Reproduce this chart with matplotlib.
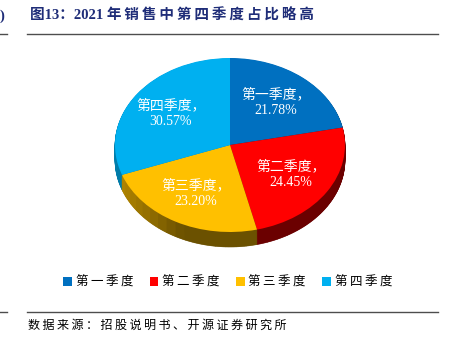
import numpy as np
import matplotlib.pyplot as plt
from matplotlib.colors import to_rgb
from matplotlib.lines import Line2D

plt.rcParams['font.family'] = ['Liberation Serif', 'Noto Sans CJK SC', 'DejaVu Sans']

# Quarterly sales share (%)
quarters = ['第一季度', '第二季度', '第三季度', '第四季度']
shares = [21.78, 24.45, 23.20, 30.57]
top_colors = ['#0070C0', '#FF0000', '#FFC000', '#00B0F0']

fig = plt.figure(figsize=(4.53, 3.43), dpi=100)
ax = fig.add_axes([0, 0, 1, 1])

# pie centre / radii in pixels, used to set the data limits
cx, cy, rx, ry = 230, 145, 115, 87
W, H = 453, 343
depth = 15 / ry


def spaced(s, sep='\u2009'):
    return sep.join(s)


# side wall: each share split into thin slices, shaded by horizontal position
k = 16
sub_vals, sub_cols = [], []
start = 90.0
for v, c in zip(shares, top_colors):
    span = v / 100 * 360
    for j in range(k):
        mid = np.radians(start - span * (j + 0.5) / k)
        x = np.cos(mid)
        f = 0.42 + 0.3 * np.clip((-x - 0.4) / 0.6, 0, 1)
        sub_vals.append(v / k)
        sub_cols.append(tuple(np.array(to_rgb(c)) * f))
    start -= span

for d in np.linspace(depth, 0.01, 30):
    side, _ = ax.pie(sub_vals, colors=sub_cols, startangle=90, counterclock=False,
                     center=(0, -d), wedgeprops=dict(linewidth=0.4))
    for w in side:
        w.set_edgecolor(w.get_facecolor())

# top face with labels
it = iter(range(len(quarters)))
wedges, texts, autotexts = ax.pie(
    shares, colors=top_colors, startangle=90, counterclock=False,
    wedgeprops=dict(linewidth=0),
    autopct=lambda p: f"{quarters[next(it)]}，\n{p:.2f}%",
    pctdistance=0.63, textprops=dict(color='white', fontsize=10, linespacing=1.3))

ax.set_aspect('auto')
ax.set_xlim(-cx / rx, (W - cx) / rx)
ax.set_ylim((cy - H) / ry, cy / ry)
ax.axis('off')

# legend under the pie
ax.legend(wedges, [spaced(q) for q in quarters], loc='center',
          bbox_to_anchor=(0.503, 1 - 283 / H), bbox_transform=fig.transFigure,
          ncol=4, frameon=False, fontsize=9, handlelength=0.7, handleheight=0.7,
          handletextpad=0.3, columnspacing=1.3)

# title, source and rule lines
fig.text(30 / W, 1 - 16 / H, '图13：2021 ' + spaced('年销售中第四季度占比略高'),
         fontsize=10.5, fontweight='bold', color='#1F2D78', va='center', ha='left')
fig.text(0 / W, 1 - 16 / H, ')', fontsize=10.5, fontweight='bold', color='#1F2D78',
         va='center', ha='left')
fig.text(28 / W, 1 - 326 / H, spaced('数据来源：招股说明书、开源证券研究所'),
         fontsize=8.7, color='black', va='center', ha='left')
for y in (34, 312):
    yf = 1 - y / H
    fig.add_artist(Line2D([27 / W, 438 / W], [yf, yf], color='#4D4D4D', lw=1))
    fig.add_artist(Line2D([0, 7 / W], [yf, yf], color='#4D4D4D', lw=1))

plt.savefig('out.png', dpi=100)
